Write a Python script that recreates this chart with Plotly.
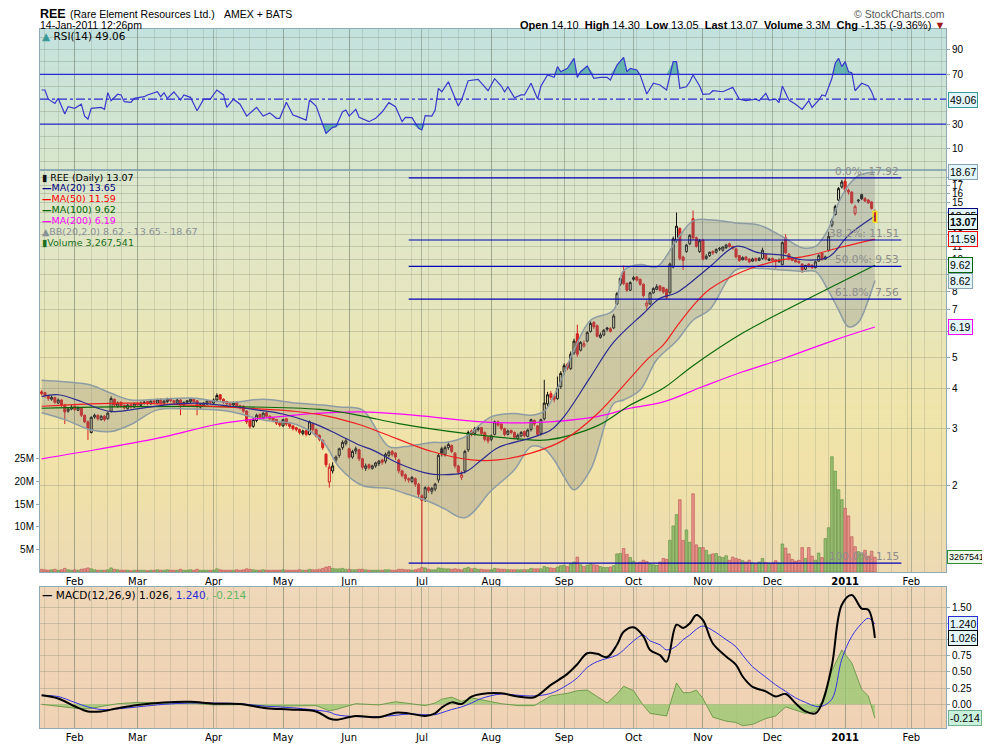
import math
from decimal import Decimal, ROUND_HALF_DOWN
import numpy as np
import pandas as pd
import plotly.graph_objects as go

# ---------------- data (REE daily, 15-Jan-2010 .. 14-Jan-2011) ----------------
opens = [3.90, 3.88, 3.80, 3.70, 3.75, 3.60, 3.68, 3.55, 3.40, 3.45, 3.52, 3.42, 3.48, 3.30, 3.15, 2.92, 3.26, 3.30, 3.20, 3.28,
         3.22, 3.40, 3.70, 3.52, 3.62, 3.55, 3.46, 3.56, 3.50, 3.60, 3.54,
         3.60, 3.64, 3.58, 3.66, 3.60, 3.70, 3.60, 3.64, 3.72, 3.66, 3.60, 3.68, 3.55, 3.62, 3.64, 3.70, 3.66, 3.50, 3.55, 3.58,
         3.66, 3.60, 3.68, 3.82, 3.70, 3.64, 3.58, 3.55, 3.62, 3.53,
         3.52, 3.40, 3.18, 3.05, 3.18, 3.32, 3.24, 3.36, 3.28, 3.24, 3.20, 3.12, 3.06, 3.22, 3.12, 3.06, 3.02, 2.98, 2.90, 2.96,
         2.88, 3.10, 2.98, 2.86, 2.76, 2.50, 2.05, 2.22, 2.40, 2.48, 2.62, 2.70, 2.60, 2.45, 2.56, 2.58,
         2.42, 2.26, 2.32, 2.26, 2.30, 2.34, 2.40, 2.38, 2.48, 2.55, 2.52, 2.40, 2.22, 2.16, 2.10, 2.06, 2.10, 2.02, 1.86, 1.83,
         1.97, 1.92, 1.95, 2.08, 2.60, 2.50, 2.62, 2.66, 2.52, 2.30, 2.12, 2.22, 2.58, 2.95, 2.90, 2.98, 3.02, 2.92, 2.82,
         2.78, 2.88, 3.15, 3.10, 3.00, 2.88, 2.96, 2.92, 2.80, 2.85, 2.94, 2.84, 2.98, 3.18, 3.06, 2.90, 3.22, 3.58, 3.85, 3.78,
         3.72, 4.05, 4.50, 4.75, 4.60, 5.15, 5.90, 5.25, 5.40, 5.60, 6.00, 6.40, 6.25, 5.75, 5.85, 6.15, 6.12, 6.15, 7.30, 8.40,
         9.20, 8.45, 8.05, 8.70, 8.85, 8.70, 8.40, 7.20, 7.30, 7.90, 8.10, 8.30, 8.20, 8.10, 7.90, 9.50, 11.50, 12.50, 10.20, 10.60,
         11.20, 13.40, 11.70, 10.60, 11.50, 10.10, 10.30, 10.60, 10.55, 10.85, 10.70, 10.90, 11.20, 11.00, 10.80, 10.30, 10.00, 10.20, 10.05, 9.90,
         10.10, 9.95, 10.10, 10.40, 9.95, 10.10, 10.00, 9.85, 9.65, 11.70, 10.40, 10.10, 9.98, 9.90, 9.70, 9.35, 9.70, 9.60, 9.45, 9.90,
         10.50, 10.05, 10.70, 12.80, 13.80, 15.30, 16.80, 17.50, 16.40, 16.20, 13.90, 15.20, 15.90, 15.50, 15.30, 15.10, 14.10]

highs = [3.95, 3.90, 3.82, 3.80, 3.76, 3.72, 3.70, 3.58, 3.50, 3.55, 3.54, 3.52, 3.50, 3.32, 3.18, 3.28, 3.34, 3.32, 3.30, 3.30,
         3.38, 3.78, 3.72, 3.64, 3.64, 3.56, 3.58, 3.58, 3.62, 3.62, 3.64,
         3.66, 3.66, 3.68, 3.68, 3.72, 3.72, 3.68, 3.74, 3.74, 3.68, 3.72, 3.70, 3.64, 3.68, 3.72, 3.72, 3.68, 3.58, 3.62, 3.68,
         3.68, 3.72, 3.86, 3.84, 3.72, 3.66, 3.60, 3.64, 3.64, 3.56,
         3.54, 3.42, 3.20, 3.24, 3.34, 3.34, 3.38, 3.38, 3.30, 3.26, 3.22, 3.14, 3.22, 3.24, 3.14, 3.08, 3.04, 3.00, 2.98, 2.98,
         3.18, 3.12, 3.00, 2.88, 2.78, 2.52, 2.34, 2.36, 2.48, 2.62, 2.76, 2.80, 2.62, 2.58, 2.64, 2.60,
         2.44, 2.34, 2.34, 2.32, 2.37, 2.40, 2.42, 2.53, 2.57, 2.58, 2.54, 2.42, 2.24, 2.18, 2.12, 2.14, 2.12, 2.04, 1.88, 1.99,
         1.99, 1.98, 2.04, 2.52, 2.64, 2.66, 2.72, 2.68, 2.54, 2.32, 2.22, 2.58, 2.96, 2.98, 3.04, 3.06, 3.04, 2.94, 2.84,
         2.88, 3.18, 3.18, 3.12, 3.02, 2.98, 2.98, 2.94, 2.90, 2.95, 2.96, 3.00, 3.22, 3.20, 3.08, 3.22, 4.25, 3.90, 3.92, 3.82,
         4.35, 4.52, 4.78, 4.80, 5.20, 5.70, 6.30, 5.60, 5.62, 6.02, 6.45, 6.45, 6.30, 5.95, 6.10, 6.20, 6.18, 6.80, 7.95, 8.85,
         9.60, 8.50, 8.58, 8.90, 8.90, 8.75, 8.45, 7.50, 7.95, 8.22, 8.40, 8.35, 8.25, 8.15, 9.80, 11.80, 14.00, 12.60, 10.30, 11.20,
         12.00, 14.20, 11.80, 11.60, 11.60, 10.40, 10.60, 10.70, 10.85, 10.95, 11.00, 11.20, 11.30, 11.05, 10.90, 10.35, 10.25, 10.25, 10.10, 10.15,
         10.15, 10.20, 10.90, 10.45, 10.15, 10.15, 10.05, 10.10, 11.40, 12.00, 10.50, 10.15, 10.05, 9.95, 9.75, 9.65, 9.75, 9.70, 9.95, 10.40,
         10.55, 10.30, 12.20, 13.40, 14.80, 16.80, 17.70, 17.92, 16.60, 16.30, 14.80, 15.40, 16.00, 15.60, 15.40, 15.20, 14.30]

lows = [3.80, 3.74, 3.66, 3.66, 3.58, 3.58, 3.50, 3.10, 3.36, 3.42, 3.40, 3.40, 3.26, 3.12, 2.77, 2.90, 3.22, 3.18, 3.18, 3.16,
        3.20, 3.36, 3.50, 3.48, 3.48, 3.44, 3.44, 3.46, 3.48, 3.50, 3.52,
        3.56, 3.54, 3.56, 3.58, 3.58, 3.56, 3.56, 3.60, 3.62, 3.58, 3.56, 3.30, 3.50, 3.58, 3.60, 3.60, 3.30, 3.46, 3.52, 3.55,
        3.58, 3.56, 3.64, 3.66, 3.58, 3.54, 3.50, 3.50, 3.48, 3.44,
        3.36, 3.10, 3.00, 3.02, 3.14, 3.20, 3.22, 3.24, 3.18, 3.14, 3.08, 3.04, 3.04, 3.06, 3.00, 2.96, 2.94, 2.88, 2.86, 2.84,
        2.86, 2.94, 2.82, 2.74, 2.58, 2.28, 1.97, 2.18, 2.36, 2.44, 2.58, 2.66, 2.42, 2.42, 2.50, 2.38,
        2.24, 2.22, 2.24, 2.24, 2.27, 2.30, 2.32, 2.34, 2.44, 2.46, 2.40, 2.18, 2.12, 2.06, 2.04, 2.04, 1.98, 1.84, 1.15, 1.78,
        1.90, 1.88, 1.92, 2.04, 2.46, 2.46, 2.58, 2.52, 2.26, 2.16, 2.08, 2.18, 2.54, 2.84, 2.86, 2.94, 2.86, 2.74, 2.70,
        2.74, 2.86, 3.04, 2.96, 2.84, 2.86, 2.88, 2.80, 2.76, 2.82, 2.82, 2.82, 2.94, 3.05, 2.84, 2.86, 3.18, 3.52, 3.68, 3.62,
        3.68, 3.98, 4.42, 4.55, 4.56, 5.08, 5.00, 5.20, 5.35, 5.55, 5.95, 6.10, 5.75, 5.70, 5.80, 6.00, 5.95, 6.10, 7.25, 8.30,
        8.35, 7.95, 8.00, 8.60, 8.55, 8.30, 7.65, 7.00, 7.25, 7.85, 8.05, 7.98, 7.85, 7.55, 7.85, 9.40, 11.30, 9.95, 9.30, 10.50,
        11.10, 11.50, 10.90, 10.50, 9.95, 10.00, 10.20, 10.35, 10.45, 10.65, 10.60, 10.80, 10.90, 10.75, 10.10, 9.85, 9.95, 9.95, 9.75, 9.85,
        9.85, 9.90, 10.00, 9.95, 9.90, 9.85, 9.40, 9.80, 9.60, 10.40, 9.95, 9.90, 9.80, 9.70, 9.10, 9.30, 9.45, 9.35, 9.40, 9.85,
        9.95, 10.00, 10.60, 12.60, 13.70, 15.20, 16.60, 16.20, 15.90, 14.90, 13.70, 15.00, 15.30, 15.10, 14.90, 14.30, 13.05]

closes = [3.85, 3.80, 3.72, 3.75, 3.62, 3.68, 3.55, 3.38, 3.45, 3.50, 3.44, 3.48, 3.30, 3.15, 3.00, 3.25, 3.30, 3.22, 3.28, 3.20,
          3.35, 3.72, 3.55, 3.60, 3.52, 3.48, 3.55, 3.50, 3.58, 3.55, 3.60,
          3.62, 3.58, 3.65, 3.62, 3.68, 3.60, 3.65, 3.70, 3.66, 3.62, 3.68, 3.55, 3.62, 3.66, 3.70, 3.64, 3.52, 3.56, 3.60, 3.65,
          3.62, 3.68, 3.80, 3.70, 3.62, 3.58, 3.55, 3.60, 3.52, 3.50,
          3.40, 3.15, 3.05, 3.20, 3.30, 3.25, 3.35, 3.28, 3.22, 3.18, 3.12, 3.08, 3.20, 3.10, 3.05, 3.00, 2.98, 2.92, 2.95, 2.88,
          3.15, 2.98, 2.85, 2.78, 2.62, 2.32, 2.28, 2.30, 2.45, 2.60, 2.72, 2.75, 2.45, 2.55, 2.60, 2.42,
          2.28, 2.30, 2.27, 2.30, 2.35, 2.38, 2.36, 2.50, 2.54, 2.50, 2.45, 2.22, 2.15, 2.10, 2.08, 2.12, 2.02, 1.88, 1.80, 1.97,
          1.93, 1.96, 2.02, 2.48, 2.52, 2.62, 2.68, 2.55, 2.30, 2.20, 2.16, 2.55, 2.92, 2.88, 3.00, 3.02, 2.90, 2.78, 2.75,
          2.85, 3.15, 3.08, 3.00, 2.88, 2.95, 2.92, 2.82, 2.86, 2.92, 2.85, 2.97, 3.20, 3.10, 2.88, 3.20, 3.60, 3.82, 3.75, 3.70,
          4.00, 4.45, 4.70, 4.62, 5.10, 5.60, 5.10, 5.55, 5.50, 5.95, 6.35, 6.20, 5.80, 5.85, 6.05, 6.10, 6.00, 6.70, 7.85, 8.75,
          8.45, 8.05, 8.50, 8.80, 8.65, 8.40, 7.75, 7.35, 7.90, 8.15, 8.25, 8.05, 7.95, 7.65, 9.70, 11.60, 12.70, 10.10, 9.95, 11.10,
          11.90, 11.70, 11.00, 11.45, 10.05, 10.25, 10.55, 10.50, 10.75, 10.80, 10.95, 11.10, 11.00, 10.85, 10.20, 9.95, 10.15, 10.00, 9.85, 10.05,
          9.95, 10.10, 10.70, 10.05, 10.05, 9.95, 9.90, 9.95, 11.30, 10.50, 10.05, 9.95, 9.85, 9.80, 9.30, 9.60, 9.55, 9.45, 9.85, 10.30,
          10.00, 10.20, 11.80, 13.20, 14.60, 16.60, 17.40, 16.40, 16.20, 15.00, 14.60, 15.30, 15.45, 15.20, 15.00, 14.42, 13.07]

# volume in millions of shares
volumes = [0.6, 0.5, 0.4, 0.5, 0.6, 0.4, 0.5, 0.8, 0.5, 0.4, 0.5, 0.4, 0.6, 0.7, 0.9, 0.7, 0.5, 0.4, 0.4, 0.4,
           0.5, 0.9, 0.6, 0.5, 0.4, 0.4, 0.4, 0.3, 0.4, 0.4,
           0.4, 0.4, 0.3, 0.4, 0.4, 0.5, 0.4, 0.4, 0.5, 0.4, 0.4, 0.4, 0.6, 0.4, 0.4, 0.5, 0.4, 0.6, 0.4, 0.4,
           0.4, 0.4, 0.4, 0.7, 0.5, 0.4, 0.4, 0.4, 0.4, 0.5,
           0.4, 0.5, 0.7, 0.6, 0.5, 0.4, 0.4, 0.5, 0.4, 0.4, 0.4, 0.4, 0.4, 0.5, 0.4, 0.4, 0.4, 0.4, 0.5, 0.4,
           0.4, 0.6, 0.5, 0.5, 0.6, 0.8, 1.1, 1.2, 0.8, 0.7,
           0.7, 0.8, 0.6, 0.6, 0.5, 0.5, 0.6, 0.6, 0.5, 0.4, 0.4, 0.4, 0.4, 0.4, 0.5, 0.5, 0.4, 0.4, 0.6, 0.6,
           0.5, 0.5, 0.4, 0.5, 0.7, 1.0, 0.9, 0.6, 0.5, 0.5,
           0.9, 0.8, 0.7, 0.7, 0.6, 0.7, 0.6, 0.5, 0.8, 1.0, 0.7, 0.8, 0.6, 0.6, 0.5, 0.5, 0.5, 0.8, 0.7, 0.6,
           0.6, 0.5, 0.5, 0.5, 0.5, 0.5, 0.5, 0.5, 0.8, 0.7,
           0.7, 0.7, 1.2, 1.0, 0.9, 0.8, 1.1, 1.4, 1.5, 1.2, 1.8, 2.2, 3.3, 1.6, 1.2, 1.5, 1.8, 1.6, 1.5, 1.2,
           1.0, 1.0, 1.1, 1.4, 4.0, 4.1, 5.2, 3.9, 3.2, 2.4,
           2.0, 2.2, 2.6, 2.3, 1.8, 1.6, 1.5, 2.2, 3.0, 2.8, 7.0, 10.2, 12.7, 16.0, 7.0, 9.3, 6.6, 17.3, 6.0, 5.4,
           5.4, 4.8, 3.8, 4.0, 4.1, 3.4, 3.2, 3.6, 2.6, 3.3,
           3.0, 2.8, 2.5, 2.2, 2.6, 2.0, 1.8, 2.2, 3.0, 2.1, 1.9, 2.0, 2.5, 2.0, 6.2, 5.3, 4.0, 2.8, 2.4, 2.6,
           5.4, 3.0, 5.4, 3.5, 2.6, 4.2, 3.2, 7.4, 9.8, 25.5,
           22.3, 18.2, 16.0, 14.1, 12.4, 7.8, 5.6, 4.5, 4.0, 4.8, 3.5, 4.6, 3.267541]

# moving averages / bands, read at sample days (trading-day index)
ma20_idx = [0, 5, 12, 17, 21, 27, 37, 47, 57, 65, 73, 82, 89, 96, 100, 108, 116, 121, 128, 133, 138, 148, 154, 158,
            166, 173, 182, 187, 192, 202, 210, 217, 225, 230, 238, 244, 252]
ma20_val = [3.77, 3.82, 3.64, 3.47, 3.39, 3.43, 3.55, 3.60, 3.52, 3.43, 3.33, 3.12, 2.90, 2.67, 2.58, 2.34, 2.19, 2.16,
            2.20, 2.40, 2.62, 2.81, 2.97, 3.27, 4.34, 5.56, 6.82, 7.60, 7.90, 9.50, 11.00, 10.50, 10.30, 10.00, 10.20, 11.90, 13.65]
ma50_idx = [0, 27, 62, 77, 87, 96, 103, 118, 130, 138, 148, 158, 168, 178, 183, 188, 192, 197, 202, 212, 222, 232, 242, 252]
ma50_val = [3.52, 3.60, 3.47, 3.39, 3.27, 3.09, 2.91, 2.55, 2.40, 2.40, 2.52, 2.77, 3.33, 4.30, 4.90, 5.45, 6.20, 7.20,
            8.10, 9.20, 9.90, 10.30, 10.95, 11.59]
ma100_idx = [0, 27, 57, 84, 96, 108, 128, 144, 153, 168, 178, 188, 197, 212, 227, 242, 252]
ma100_val = [3.47, 3.51, 3.51, 3.44, 3.30, 3.11, 2.90, 2.79, 2.77, 3.06, 3.55, 4.00, 4.70, 5.93, 7.15, 8.55, 9.62]
ma200_idx = [0, 17, 37, 52, 62, 72, 82, 96, 113, 133, 148, 168, 178, 188, 200, 212, 224, 240, 252]
ma200_val = [2.42, 2.59, 2.83, 3.08, 3.19, 3.27, 3.34, 3.38, 3.30, 3.15, 3.13, 3.27, 3.47, 3.63, 4.05, 4.50, 4.93, 5.65, 6.19]

bb_idx = [0, 7, 15, 21, 27, 35, 45, 57, 67, 77, 85, 90, 97, 105, 110, 118, 122, 128, 136, 143, 148, 152, 155, 158,
          161, 166, 173, 176, 181, 186, 192, 197, 202, 210, 217, 224, 230, 234, 238, 241, 244, 247, 250, 252]
bb_up = [4.24, 4.19, 4.09, 3.86, 3.68, 3.70, 3.73, 3.62, 3.70, 3.60, 3.55, 3.50, 3.43, 2.64, 2.64, 2.72, 2.72, 2.83,
         3.27, 3.34, 3.30, 3.40, 3.80, 4.46, 5.25, 6.50, 6.99, 9.26, 9.66, 9.50, 11.50, 13.20, 13.30, 13.00, 12.80, 11.80,
         10.90, 11.00, 12.50, 15.00, 17.00, 18.20, 18.60, 18.67]
bb_lo = [3.36, 3.20, 2.97, 2.94, 3.09, 3.43, 3.45, 3.39, 3.19, 3.09, 2.74, 2.28, 2.00, 1.96, 1.89, 1.77, 1.69, 1.59,
         1.93, 2.24, 2.64, 2.60, 2.40, 2.13, 1.94, 2.24, 3.59, 3.68, 3.95, 4.90, 5.60, 6.50, 7.00, 9.30, 9.40, 9.30,
         9.20, 9.20, 8.00, 7.00, 6.20, 6.40, 7.50, 8.62]

rsi_idx = [0, 1, 2, 4, 5, 7, 8, 10, 12, 13, 14, 15, 18, 19, 20, 21, 23, 24, 25, 27, 28, 31, 32, 35, 36, 37, 38, 40,
           42, 43, 45, 47, 49, 51, 53, 55, 56, 58, 60, 62, 65, 67, 69, 71, 72, 74, 76, 77, 80, 81, 83, 85, 86, 88,
           89, 91, 92, 93, 95, 96, 99, 101, 103, 105, 107, 109, 110, 112, 114, 115, 116, 118, 119, 120, 121, 123,
           125, 126, 127, 129, 132, 135, 137, 139, 140, 141, 143, 145, 146, 148, 150, 151, 153, 155, 156, 157, 159,
           161, 162, 163, 165, 167, 169, 171, 172, 174, 176, 177, 178, 180, 181, 183, 185, 187, 189, 191, 192, 193,
           195, 196, 197, 199, 200, 202, 203, 206, 209, 211, 213, 216, 217, 219, 220, 222, 223, 224, 226, 228, 230,
           232, 233, 235, 236, 237, 239, 240, 241, 242, 243, 244, 245, 246, 248, 250, 251, 252]
rsi_val = [57.4, 57.4, 50.0, 46.6, 50.7, 38.0, 44.0, 42.6, 46.0, 36.4, 34.0, 42.6, 43.4, 41.8, 55.2, 48.8, 54.0, 53.4,
           48.0, 47.5, 50.7, 52.0, 53.4, 56.0, 52.0, 55.2, 50.7, 55.8, 49.3, 53.4, 51.5, 40.7, 50.0, 50.0, 57.4, 53.4,
           43.4, 50.0, 46.0, 36.4, 43.4, 36.4, 39.0, 34.6, 34.6, 47.5, 37.2, 36.4, 33.2, 49.3, 44.5, 29.2, 22.5, 27.3,
           27.9, 39.9, 41.3, 36.4, 41.8, 35.4, 31.9, 34.6, 39.9, 47.2, 44.0, 31.9, 35.4, 35.1, 26.5, 25.2, 36.7, 36.4,
           41.3, 58.7, 56.0, 64.0, 50.0, 44.5, 49.3, 64.9, 66.0, 56.8, 66.5, 60.6, 56.0, 60.0, 51.2, 53.4, 53.4, 62.8,
           50.1, 60.6, 69.5, 67.6, 76.2, 72.1, 74.8, 82.9, 67.6, 72.1, 76.7, 66.8, 67.6, 67.6, 65.4, 77.5, 83.7, 72.1,
           74.8, 73.5, 69.5, 54.2, 62.8, 61.4, 57.4, 80.2, 80.2, 58.7, 60.0, 64.0, 69.5, 60.6, 53.9, 54.2, 56.8, 56.0,
           59.5, 50.0, 48.8, 50.0, 48.8, 54.7, 49.3, 50.0, 47.2, 60.6, 49.3, 46.0, 41.8, 48.8, 43.4, 49.3, 53.4, 52.6,
           66.8, 78.9, 82.9, 76.2, 80.2, 72.1, 71.3, 56.8, 62.8, 60.6, 56.0, 49.06]

macd_idx = [0, 5, 10, 14, 18, 23, 29, 37, 45, 52, 60, 68, 75, 83, 87, 89, 95, 102, 107, 111, 116, 119, 121, 124, 127,
            130, 133, 139, 144, 149, 154, 159, 162, 165, 168, 171, 174, 176, 179, 182, 184, 187, 189, 192, 194, 196,
            198, 200, 203, 207, 210, 212, 215, 219, 222, 225, 228, 231, 234, 236, 239, 242, 245, 248, 250, 252]
macd_val = [0.14, 0.09, -0.03, -0.11, -0.11, -0.06, -0.01, 0.03, 0.04, 0.01, 0.005, -0.06, -0.08, -0.11, -0.22, -0.24,
            -0.18, -0.20, -0.13, -0.14, -0.18, -0.14, -0.05, 0.03, 0.005, 0.12, 0.16, 0.17, 0.12, 0.11, 0.30, 0.47,
            0.62, 0.79, 0.78, 0.73, 0.92, 1.12, 1.19, 1.05, 0.84, 0.76, 0.66, 1.23, 1.18, 1.25, 1.38, 1.30, 0.94, 0.74,
            0.61, 0.43, 0.27, 0.20, 0.12, 0.16, 0.015, -0.11, -0.14, 0.015, 0.60, 1.54, 1.69, 1.48, 1.46, 1.026]
signal_val = [0.14, 0.12, 0.03, -0.04, -0.08, -0.07, -0.04, 0.00, 0.02, 0.02, 0.01, -0.03, -0.05, -0.09, -0.12, -0.16,
              -0.19, -0.19, -0.17, -0.15, -0.16, -0.16, -0.13, -0.08, -0.04, 0.02, 0.09, 0.16, 0.14, 0.13, 0.17, 0.30,
              0.41, 0.57, 0.66, 0.71, 0.76, 0.84, 0.98, 1.07, 0.98, 0.92, 0.84, 0.90, 1.00, 1.07, 1.16, 1.21, 1.14, 1.00,
              0.89, 0.76, 0.58, 0.42, 0.30, 0.20, 0.10, 0.03, -0.03, -0.03, 0.08, 0.70, 1.05, 1.25, 1.33, 1.24]

holidays = ["2010-01-18", "2010-02-15", "2010-04-02", "2010-05-31", "2010-07-05", "2010-09-06",
            "2010-11-25", "2010-12-24", "2011-01-17", "2011-02-21"]

# ---------------- helpers / layout geometry (page pixels) ----------------
PAGE_OFF = 8                               # the html body margin
W, H = 990 - PAGE_OFF, 744 - PAGE_OFF
PL, PR, PT, PB = 40, 946, 29, 728          # plot area in page pixels
RSI_TOP, RSI_BOT = 29, 170
MAIN_TOP, MAIN_BOT = 170, 572
MACD_TOP, MACD_BOT = 587, 728
X_RANGE = [-0.5, 273.5]
FIB_START, FIB_END = 111, 260


def py(p):
    return (PB - p) / (PB - PT)


def px(p):
    return (p - PL) / (PR - PL)


def two_dp(v):
    return str(Decimal(str(round(v, 6))).quantize(Decimal("0.01"), rounding=ROUND_HALF_DOWN))


L = math.log10
n = len(closes)
idx = list(range(n))
last = n - 1

dates = pd.bdate_range("2010-01-15", "2011-03-01", freq="C", holidays=holidays)
month_pos, month_txt, week_pos = [], [], []
for i in range(1, len(dates)):
    if i > X_RANGE[1]:
        break
    d, p = dates[i], dates[i - 1]
    if d.month != p.month:
        month_pos.append(i)
        month_txt.append("<b>2011</b>" if d.month == 1 else d.strftime("%b"))
    if d.weekday() < p.weekday():
        week_pos.append(i)

up = [closes[i] >= (closes[i - 1] if i > 0 else opens[i]) for i in idx]

BORDER = "#8eaab4"
GRID_M = "rgba(105,118,100,0.45)"
GRID_W = "rgba(120,130,110,0.22)"
GRID_H = "rgba(120,130,110,0.30)"
BLACK_C = "#111111"
RED_C = "#d42020"

fig = go.Figure()

# volume (base axis, drawn under price)
fig.add_trace(go.Bar(
    x=idx, y=volumes, xaxis="x", yaxis="y", width=0.8,
    marker=dict(color=["rgba(128,180,96,0.78)" if u else "rgba(228,126,126,0.78)" for u in up],
                line=dict(color=["#5c8f3c" if u else "#b85050" for u in up], width=0.6)),
    hoverinfo="skip"))

# Bollinger band
fig.add_trace(go.Scatter(x=bb_idx, y=bb_lo, xaxis="x", yaxis="y2", mode="lines", line_shape="spline",
                         line=dict(color="#8e9ca4", width=1.5), hoverinfo="skip"))
fig.add_trace(go.Scatter(x=bb_idx, y=bb_up, xaxis="x", yaxis="y2", mode="lines", line_shape="spline",
                         fill="tonexty", fillcolor="rgba(125,125,125,0.28)",
                         line=dict(color="#8e9ca4", width=1.5), hoverinfo="skip"))

# moving averages
for xs, ys, col in [(ma200_idx, ma200_val, "#ff00ff"), (ma100_idx, ma100_val, "#0a6a0a"),
                    (ma50_idx, ma50_val, "#f02020"), (ma20_idx, ma20_val, "#2a2a90")]:
    fig.add_trace(go.Scatter(x=xs, y=ys, xaxis="x", yaxis="y2", mode="lines", line_shape="spline",
                             line=dict(color=col, width=1.2), hoverinfo="skip"))

# Fibonacci retracement lines
fib_hi, fib_lo = max(highs), min(lows)
fib_pcts = [0.0, 38.2, 50.0, 61.8, 100.0]
fib_levels = [fib_hi - p / 100 * (fib_hi - fib_lo) for p in fib_pcts]
for lv in fib_levels:
    fig.add_trace(go.Scatter(x=[FIB_START, FIB_END], y=[lv, lv], xaxis="x", yaxis="y2", mode="lines",
                             line=dict(color="#0000b8", width=1.2), hoverinfo="skip"))

# candles: black when close >= previous close, red otherwise; hollow when close > open
for flag, col in [(True, BLACK_C), (False, RED_C)]:
    sel = [i for i in idx if up[i] == flag]
    fig.add_trace(go.Candlestick(
        x=sel, open=[opens[i] for i in sel], high=[highs[i] for i in sel],
        low=[lows[i] for i in sel], close=[closes[i] for i in sel],
        xaxis="x", yaxis="y2", whiskerwidth=0,
        increasing=dict(line=dict(color=col, width=1), fillcolor="rgba(255,255,255,0)"),
        decreasing=dict(line=dict(color=col, width=1), fillcolor=col),
        hoverinfo="skip"))

# highlight of the latest candle
b_hi, b_lo = max(opens[last], closes[last]), min(opens[last], closes[last])
fig.add_trace(go.Scatter(x=[last - 0.55, last + 0.55, last + 0.55, last - 0.55, last - 0.55],
                         y=[b_lo, b_lo, b_hi, b_hi, b_lo], xaxis="x", yaxis="y2", mode="lines",
                         line=dict(color="#f0e020", width=1.5), hoverinfo="skip"))

# MACD panel
hist = [m - s for m, s in zip(macd_val, signal_val)]
fig.add_trace(go.Scatter(x=macd_idx, y=hist, xaxis="x2", yaxis="y3", mode="lines", fill="tozeroy",
                         fillcolor="rgba(150,200,112,0.75)", line=dict(color="#5a8f3a", width=0.8),
                         hoverinfo="skip"))
fig.add_trace(go.Scatter(x=macd_idx, y=signal_val, xaxis="x2", yaxis="y3", mode="lines", line_shape="spline",
                         line=dict(color="#3434e0", width=1), hoverinfo="skip"))
fig.add_trace(go.Scatter(x=macd_idx, y=macd_val, xaxis="x2", yaxis="y3", mode="lines", line_shape="spline",
                         line=dict(color="#000000", width=2), hoverinfo="skip"))

# RSI panel: overbought / oversold shading, then the line
fig.add_trace(go.Scatter(x=rsi_idx, y=[70] * len(rsi_idx), xaxis="x3", yaxis="y4", mode="lines",
                         line=dict(width=0), hoverinfo="skip"))
fig.add_trace(go.Scatter(x=rsi_idx, y=[max(v, 70) for v in rsi_val], xaxis="x3", yaxis="y4", mode="lines",
                         fill="tonexty", fillcolor="rgba(70,165,160,0.75)", line=dict(width=0), hoverinfo="skip"))
fig.add_trace(go.Scatter(x=rsi_idx, y=[30] * len(rsi_idx), xaxis="x3", yaxis="y4", mode="lines",
                         line=dict(width=0), hoverinfo="skip"))
fig.add_trace(go.Scatter(x=rsi_idx, y=[min(v, 30) for v in rsi_val], xaxis="x3", yaxis="y4", mode="lines",
                         fill="tonexty", fillcolor="rgba(70,165,160,0.75)", line=dict(width=0), hoverinfo="skip"))
fig.add_trace(go.Scatter(x=rsi_idx, y=rsi_val, xaxis="x3", yaxis="y4", mode="lines",
                         line=dict(color="#3838cc", width=1.2), hoverinfo="skip"))

# ---------------- backgrounds (vertical gradients as thin bands) ----------------
shapes = []


def hexrgb(h):
    return [int(h[k:k + 2], 16) for k in (1, 3, 5)]


def add_gradient(stops, nb=40):
    ys = np.array([s[0] for s in stops], float)
    cols = np.array([hexrgb(s[1]) for s in stops], float)
    edges = np.linspace(ys[0], ys[-1], nb + 1)
    for a, b in zip(edges[:-1], edges[1:]):
        m = (a + b) / 2
        c = [int(round(np.interp(m, ys, cols[:, k]))) for k in range(3)]
        shapes.append(dict(type="rect", xref="paper", yref="paper", x0=0, x1=1,
                           y0=py(min(b + 0.6, ys[-1])), y1=py(a), fillcolor="rgb(%d,%d,%d)" % tuple(c),
                           line=dict(width=0), layer="below"))


add_gradient([(RSI_TOP, "#c3e2de"), (RSI_BOT, "#d8e6cb")])
add_gradient([(MAIN_TOP, "#d9e6ce"), (290, "#e5e6c0"), (400, "#efe5ab"), (480, "#f0e1a8"), (MAIN_BOT, "#eddab4")])
add_gradient([(MACD_TOP, "#efd7ba"), (MACD_BOT, "#f0d1b3")])

for yv, dash in [(70, "solid"), (30, "solid"), (50, "dashdot")]:
    shapes.append(dict(type="line", xref="paper", yref="y4", x0=0, x1=1, y0=yv, y1=yv,
                       line=dict(color="#2a2ad0", width=1.2, dash=dash), layer="above"))

# ---------------- axes ----------------
xcommon = dict(range=X_RANGE, tickmode="array", tickvals=month_pos, ticktext=month_txt, ticks="",
               showgrid=True, gridcolor=GRID_M, gridwidth=1, zeroline=False, automargin=False,
               minor=dict(tickmode="array", tickvals=week_pos, showgrid=True, gridcolor=GRID_W, ticks=""),
               showline=True, linecolor=BORDER, linewidth=1, mirror=True,
               tickfont=dict(family="DejaVu Sans", size=10, color="black"))

d_rsi = [py(RSI_BOT), 1]
d_main = [py(MAIN_BOT), py(MAIN_TOP)]
d_macd = [0, py(MACD_TOP)]

price_ticks = list(range(2, 19))
macd_ticks = [0, 0.25, 0.5, 0.75, 1.0, 1.25, 1.5]
rfont = dict(family="Liberation Sans", size=10, color="black")

fig.update_layout(
    width=W, height=H,
    margin=dict(l=PL - PAGE_OFF, r=PAGE_OFF + W - PR, t=PT - PAGE_OFF, b=PAGE_OFF + H - PB),
    paper_bgcolor="white", plot_bgcolor="rgba(0,0,0,0)", showlegend=False, hovermode=False,
    boxgap=0.12, bargap=0.2, font=dict(family="DejaVu Sans", size=10, color="black"),
    xaxis=dict(xcommon, anchor="y", rangeslider=dict(visible=False)),
    xaxis2=dict(xcommon, anchor="y3", matches="x"),
    xaxis3=dict(xcommon, anchor="y4", matches="x", showticklabels=False),
    yaxis=dict(domain=d_main, range=[0, 88.9], side="left", tickmode="array", tickvals=[5, 10, 15, 20, 25],
               ticktext=["5M", "10M", "15M", "20M", "25M"], showgrid=False, zeroline=False, automargin=False,
               ticks="outside", ticklen=3, tickcolor=BORDER, showline=True, linecolor=BORDER, mirror=True,
               tickfont=rfont),
    yaxis2=dict(overlaying="y", anchor="x", side="right", type="log", range=[L(1.08), L(18.96)],
                tickmode="array", tickvals=price_ticks, ticktext=[str(t) for t in price_ticks],
                showgrid=True, gridcolor=GRID_H, zeroline=False, ticks="outside", ticklen=3, automargin=False,
                tickcolor=BORDER, tickfont=rfont),
    yaxis3=dict(domain=d_macd, anchor="x2", side="right", range=[-0.366, 1.813], tickmode="array",
                tickvals=macd_ticks, ticktext=["%.2f" % t for t in macd_ticks], showgrid=True,
                gridcolor=GRID_H, zeroline=False, ticks="outside", ticklen=3, tickcolor=BORDER, automargin=False,
                showline=True, linecolor=BORDER, mirror=True, tickfont=rfont),
    yaxis4=dict(domain=d_rsi, anchor="x3", side="right", range=[-7.0, 106.5], tickmode="array",
                tickvals=[10, 30, 70, 90], showgrid=True, gridcolor=GRID_H, zeroline=False, automargin=False,
                minor=dict(tickmode="array", tickvals=[0, 20, 40, 60, 80, 100], showgrid=True,
                           gridcolor=GRID_H, ticks=""),
                ticks="outside", ticklen=3, tickcolor=BORDER, showline=True, linecolor=BORDER, mirror=True,
                tickfont=rfont),
    shapes=shapes,
)

# ---------------- text ----------------
ann = []


def text(xp, yp, s, size=10, color="black", family="DejaVu Sans", anchor="left"):
    ann.append(dict(xref="paper", yref="paper", x=px(xp), y=py(yp), text=s, showarrow=False,
                    xanchor=anchor, yanchor="middle", font=dict(family=family, size=size, color=color)))


def tag(yref, yv, s, border, bg="#e2f5f9", bold=False, size=10.5, shift=2):
    ann.append(dict(xref="paper", yref=yref, x=1, y=yv, xanchor="left", yanchor="middle", xshift=shift,
                    text="<b>%s</b>" % s if bold else s, showarrow=False, bordercolor=border,
                    borderwidth=1, borderpad=1, bgcolor=bg,
                    font=dict(family="Liberation Sans", size=size, color="black")))


# header (the page starts 8px down, so the first row sits a little lower than in the original)
text(38, 13.5, "<b>REE</b>", 12.5, family="Liberation Sans")
text(68, 13.5, "(Rare Element Resources Ltd.)", 10.5, family="Liberation Sans")
text(222, 13.5, "AMEX + BATS", 10.5, family="Liberation Sans")
text(38, 25, "14-Jan-2011 12:26pm", 10.5, family="Liberation Sans")
text(947, 13.5, "© StockCharts.com", 10.5, "#555555", family="Liberation Sans", anchor="right")
chg = closes[last] - closes[last - 1]
chg_pct = chg / closes[last - 1] * 100
quote = ("<b>Open</b> %.2f  <b>High</b> %.2f  <b>Low</b> %.2f  <b>Last</b> %.2f  <b>Volume</b> %.1fM  "
         "<b>Chg</b> %.2f (%.2f%%) <span style='color:#a01818'>▼</span>"
         % (opens[last], highs[last], lows[last], closes[last], volumes[last], chg, chg_pct))
text(947, 25, quote, 11, family="Liberation Sans", anchor="right")

# panel legends
text(40, 36, "<span style='color:#3a9a98'>▲</span> RSI(14) %.2f" % rsi_val[-1], 10.5)
legend_rows = [
    ("<span style='color:#111'>▮</span> REE (Daily) %.2f" % closes[last], "#000000"),
    ("<b>—</b>MA(20) %.2f" % ma20_val[-1], "#000080"),
    ("<b>—</b>MA(50) %.2f" % ma50_val[-1], "#ff0000"),
    ("<b>—</b>MA(100) %.2f" % ma100_val[-1], "#006400"),
    ("<b>—</b>MA(200) %.2f" % ma200_val[-1], "#ff00ff"),
    ("▲BB(20,2.0) %.2f - %.2f - %.2f" % (bb_lo[-1], ma20_val[-1], bb_up[-1]), "#8a9098"),
    ("▮Volume {:,}".format(int(round(volumes[last] * 1e6))), "#207020"),
]
for k, (s, c) in enumerate(legend_rows):
    text(40, 177 + k * 10.9, s, 9.5, c)
text(40, 595, "<b>—</b> MACD(12,26,9) %.3f, <span style='color:#2a2ad8'>%.3f</span>"
     "<span style='color:#60b860'>, %.3f</span>" % (macd_val[-1], signal_val[-1], hist[-1]), 10.5)

# Fibonacci labels
for p, lv in zip(fib_pcts, fib_levels):
    ann.append(dict(xref="x", yref="y2", x=FIB_END, y=L(lv), xanchor="right", yanchor="bottom", yshift=-1,
                    text="%.1f%%: %s" % (p, two_dp(lv)), showarrow=False,
                    font=dict(family="DejaVu Sans", size=10.5, color="#8c8c8c")))

# right-hand value tags
tag("y2", L(bb_up[-1]), "%.2f" % bb_up[-1], "#8aa4b4")
tag("y2", L(ma20_val[-1]), "%.2f" % ma20_val[-1], "#000080")
tag("y2", L(closes[last]), "%.2f" % closes[last], "#000000", bold=True)
tag("y2", L(ma50_val[-1]), "%.2f" % ma50_val[-1], "#ff0000")
tag("y2", L(ma100_val[-1]), "%.2f" % ma100_val[-1], "#006400")
tag("y2", L(bb_lo[-1]), "%.2f" % bb_lo[-1], "#8aa4b4")
tag("y2", L(ma200_val[-1]), "%.2f" % ma200_val[-1], "#ff00ff")
tag("y", volumes[last], "%d" % int(round(volumes[last] * 1e6)), "#2e8b2e", bg="#eef8ea", size=9, shift=1)
tag("y3", signal_val[-1], "%.3f" % signal_val[-1], "#2a2ad8")
tag("y3", macd_val[-1], "%.3f" % macd_val[-1], "#000000")
tag("y3", hist[-1], "%.3f" % hist[-1], "#70b090", bg="#c8f0dc")
tag("y4", rsi_val[-1], "%.2f" % rsi_val[-1], "#3a9a9a")

fig.update_layout(annotations=ann)
fig.write_html("out.html")
